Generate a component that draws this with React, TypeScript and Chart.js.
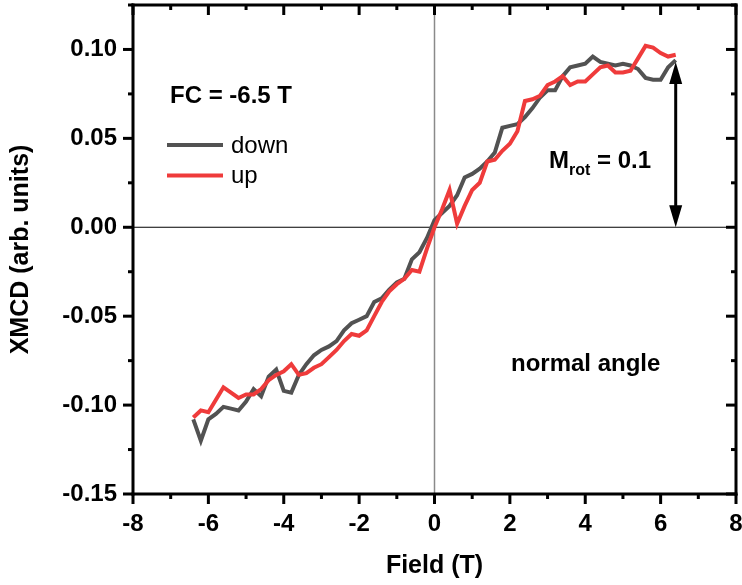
import React, { useEffect, useRef } from 'react';
import { Chart, registerables } from 'chart.js';

Chart.register(...registerables);

// Field values (T)
const fieldT = [
  -6.4, -6.2, -6.0, -5.8, -5.6, -5.4, -5.2, -5.0, -4.8, -4.6, -4.4, -4.2, -4.0,
  -3.8, -3.6, -3.4, -3.2, -3.0, -2.8, -2.6, -2.4, -2.2, -2.0, -1.8, -1.6, -1.4,
  -1.2, -1.0, -0.8, -0.6, -0.4, -0.2, 0.0, 0.2, 0.4, 0.6, 0.8, 1.0, 1.2, 1.4,
  1.6, 1.8, 2.0, 2.2, 2.4, 2.6, 2.8, 3.0, 3.2, 3.4, 3.6, 3.8, 4.0, 4.2, 4.4,
  4.6, 4.8, 5.0, 5.2, 5.4, 5.6, 5.8, 6.0, 6.2, 6.4,
];

// XMCD, sweep "down"
const xmcdDown = [
  -0.108, -0.120, -0.108, -0.105, -0.101, -0.102, -0.103, -0.098, -0.091, -0.095, -0.084, -0.080, -0.092,
  -0.093, -0.083, -0.077, -0.072, -0.069, -0.067, -0.064, -0.058, -0.054, -0.052, -0.050, -0.042, -0.040,
  -0.035, -0.031, -0.029, -0.018, -0.014, -0.006, 0.004, 0.008, 0.012, 0.018, 0.028, 0.030, 0.033, 0.037,
  0.042, 0.056, 0.057, 0.058, 0.062, 0.067, 0.073, 0.077, 0.077, 0.085, 0.090, 0.091, 0.092, 0.096, 0.093,
  0.092, 0.091, 0.092, 0.091, 0.089, 0.084, 0.083, 0.083, 0.090, 0.094,
];

// XMCD, sweep "up"
const xmcdUp = [
  -0.107, -0.103, -0.104, -0.097, -0.090, -0.093, -0.096, -0.094, -0.094, -0.091, -0.086, -0.083, -0.081,
  -0.077, -0.083, -0.082, -0.079, -0.077, -0.073, -0.069, -0.064, -0.060, -0.061, -0.058, -0.050, -0.042,
  -0.036, -0.032, -0.029, -0.024, -0.025, -0.012, 0.000, 0.010, 0.021, 0.002, 0.012, 0.021, 0.025, 0.037,
  0.038, 0.043, 0.047, 0.054, 0.071, 0.072, 0.074, 0.080, 0.082, 0.085, 0.080, 0.082, 0.082, 0.086, 0.090,
  0.091, 0.087, 0.087, 0.088, 0.095, 0.102, 0.101, 0.098, 0.096, 0.097,
];

const xMajorTicks = [-8, -6, -4, -2, 0, 2, 4, 6, 8];
const xMinorTicks = [-7, -5, -3, -1, 1, 3, 5, 7];
const yMajorTicks = [-0.15, -0.1, -0.05, 0.0, 0.05, 0.1];
const yMinorTicks = [-0.125, -0.075, -0.025, 0.025, 0.075, 0.125];

const xRange = [-8, 8];
const yRange = [-0.15, 0.125];

// Double arrow (M_rot) in data units
const arrowField = 6.4;
const arrowTop = 0.093;
const arrowBottom = 0.0;

const seriesNames = ['down', 'up'];
const fcLabel = 'FC = -6.5 T';
const angleLabel = 'normal angle';
const mrotValue = ' = 0.1';

const COLOR_DOWN = '#525252';
const COLOR_UP = '#ef3b3b';
const FONT = '"Liberation Sans", Arial, Helvetica, sans-serif';

export default function App() {
  const ref = useRef<HTMLCanvasElement | null>(null);

  useEffect(() => {
    const canvas = ref.current;
    if (!canvas) return;

    const decorPlugin = {
      id: 'decor',
      beforeDatasetsDraw(chart: any) {
        const { ctx, chartArea, scales } = chart;
        const { left, right, top, bottom } = chartArea;
        const x0 = scales.x.getPixelForValue(0);
        const y0 = scales.y.getPixelForValue(0);
        ctx.save();
        ctx.strokeStyle = '#8a8a8a';
        ctx.lineWidth = 1.5;
        ctx.beginPath();
        ctx.moveTo(x0, top);
        ctx.lineTo(x0, bottom);
        ctx.stroke();
        ctx.strokeStyle = '#000';
        ctx.lineWidth = 1.2;
        ctx.beginPath();
        ctx.moveTo(left, y0);
        ctx.lineTo(right, y0);
        ctx.stroke();
        ctx.restore();
      },
      afterDraw(chart: any) {
        const { ctx, scales } = chart;
        const xs = scales.x;
        const ys = scales.y;
        const left = xs.getPixelForValue(xRange[0]);
        const right = xs.getPixelForValue(xRange[1]);
        const top = ys.getPixelForValue(yRange[1]);
        const bottom = ys.getPixelForValue(yRange[0]);
        ctx.save();
        ctx.fillStyle = '#000';
        const LW = 3;
        // frame
        ctx.fillRect(left - LW / 2, top - LW / 2, right - left + LW, LW);
        ctx.fillRect(left - LW / 2, bottom - LW / 2, right - left + LW, LW);
        ctx.fillRect(left - LW / 2, top - LW / 2, LW, bottom - top + LW);
        ctx.fillRect(right - LW / 2, top - LW / 2, LW, bottom - top + LW);

        const MAJ = 10;
        const MIN = 5;
        const vt = (p: number, y1: number, len: number) => {
          ctx.fillRect(p - LW / 2, Math.min(y1, y1 + len), LW, Math.abs(len));
        };
        const ht = (p: number, x1: number, len: number) => {
          ctx.fillRect(Math.min(x1, x1 + len), p - LW / 2, Math.abs(len), LW);
        };
        xMajorTicks.forEach((v) => {
          const p = xs.getPixelForValue(v);
          vt(p, bottom, MAJ);
          vt(p, top, MAJ);
        });
        xMinorTicks.forEach((v) => {
          const p = xs.getPixelForValue(v);
          vt(p, bottom, MIN);
          vt(p, top, MIN);
        });
        yMajorTicks.forEach((v) => {
          const p = ys.getPixelForValue(v);
          ht(p, left, -MAJ);
          ht(p, right, -MAJ);
        });
        yMinorTicks.forEach((v) => {
          const p = ys.getPixelForValue(v);
          ht(p, left, -MIN);
          ht(p, right, -MIN);
        });

        const seg = (x1: number, y1: number, x2: number, y2: number) => {
          ctx.beginPath();
          ctx.moveTo(x1, y1);
          ctx.lineTo(x2, y2);
          ctx.stroke();
        };

        // Legend
        ctx.lineWidth = 4;
        ctx.lineCap = 'butt';
        ctx.strokeStyle = COLOR_DOWN;
        seg(167, 145, 223, 145);
        ctx.strokeStyle = COLOR_UP;
        seg(167, 175.5, 223, 175.5);
        ctx.fillStyle = '#000';
        ctx.textAlign = 'left';
        ctx.textBaseline = 'alphabetic';
        ctx.font = `24px ${FONT}`;
        ctx.fillText(seriesNames[0], 231, 153);
        ctx.fillText(seriesNames[1], 231, 183);

        // Annotations
        ctx.font = `bold 24px ${FONT}`;
        ctx.fillText(fcLabel, 170, 103);
        ctx.fillText(angleLabel, 511, 371);

        // M_rot label
        let mx = 549;
        ctx.fillText('M', mx, 168);
        mx += ctx.measureText('M').width;
        ctx.font = `bold 16px ${FONT}`;
        ctx.fillText('rot', mx, 175);
        mx += ctx.measureText('rot').width;
        ctx.font = `bold 24px ${FONT}`;
        ctx.fillText(mrotValue, mx, 168);

        // Double arrow
        const ax = xs.getPixelForValue(arrowField);
        const aTop = ys.getPixelForValue(arrowTop);
        const aBot = ys.getPixelForValue(arrowBottom);
        const headL = 22;
        const headW = 6.5;
        ctx.strokeStyle = '#000';
        ctx.lineWidth = 3;
        seg(ax, aTop + headL - 2, ax, aBot - headL + 2);
        ctx.beginPath();
        ctx.moveTo(ax, aTop);
        ctx.lineTo(ax - headW, aTop + headL);
        ctx.lineTo(ax + headW, aTop + headL);
        ctx.closePath();
        ctx.fill();
        ctx.beginPath();
        ctx.moveTo(ax, aBot);
        ctx.lineTo(ax - headW, aBot - headL);
        ctx.lineTo(ax + headW, aBot - headL);
        ctx.closePath();
        ctx.fill();
        ctx.restore();
      },
    };

    const zeroPad = (scale: any) => {
      scale.paddingLeft = 0;
      scale.paddingRight = 0;
      scale.paddingTop = 0;
      scale.paddingBottom = 0;
    };

    const chart = new Chart(canvas, {
      type: 'line',
      data: {
        datasets: [
          {
            label: seriesNames[0],
            data: fieldT.map((x, i) => ({ x, y: xmcdDown[i] })),
            borderColor: COLOR_DOWN,
            backgroundColor: COLOR_DOWN,
            borderWidth: 4,
            pointRadius: 0,
            tension: 0,
            fill: false,
            order: 1,
          },
          {
            label: seriesNames[1],
            data: fieldT.map((x, i) => ({ x, y: xmcdUp[i] })),
            borderColor: COLOR_UP,
            backgroundColor: COLOR_UP,
            borderWidth: 4,
            pointRadius: 0,
            tension: 0,
            fill: false,
            order: 0,
          },
        ],
      },
      options: {
        animation: false,
        responsive: false,
        maintainAspectRatio: false,
        layout: { padding: { top: 5, right: 6, left: 0, bottom: 0 } },
        plugins: {
          legend: { display: false },
          tooltip: { enabled: false },
          title: { display: false },
        },
        scales: {
          x: {
            type: 'linear',
            min: xRange[0],
            max: xRange[1],
            afterBuildTicks: (scale: any) => {
              scale.ticks = xMajorTicks.map((v) => ({ value: v }));
            },
            afterFit: (scale: any) => {
              scale.height = 91;
              zeroPad(scale);
            },
            grid: { display: false, drawTicks: false },
            border: { display: false },
            ticks: {
              autoSkip: false,
              maxRotation: 0,
              padding: 16,
              color: '#000',
              font: { family: FONT, size: 24, weight: 'bold' },
              callback: (v: any) => String(v),
            },
            title: {
              display: true,
              text: 'Field (T)',
              color: '#000',
              font: { family: FONT, size: 25, weight: 'bold' },
              padding: { top: 0, bottom: 4 },
            },
          },
          y: {
            type: 'linear',
            min: yRange[0],
            max: yRange[1],
            afterBuildTicks: (scale: any) => {
              scale.ticks = yMajorTicks.map((v) => ({ value: v }));
            },
            afterFit: (scale: any) => {
              scale.width = 133;
              zeroPad(scale);
            },
            grid: { display: false, drawTicks: false },
            border: { display: false },
            ticks: {
              autoSkip: false,
              padding: 16,
              color: '#000',
              font: { family: FONT, size: 24, weight: 'bold' },
              callback: (v: any) => Number(v).toFixed(2),
            },
            title: {
              display: true,
              text: 'XMCD (arb. units)',
              color: '#000',
              font: { family: FONT, size: 25, weight: 'bold' },
              padding: { top: 6, bottom: 0 },
            },
          },
        },
      },
      plugins: [decorPlugin],
    } as any);

    return () => chart.destroy();
  }, []);

  return (
    <div style={{ position: 'absolute', left: 0, top: 0, width: 742, height: 585, background: '#fff' }}>
      <canvas ref={ref} width={742} height={585} style={{ display: 'block' }} />
    </div>
  );
}
